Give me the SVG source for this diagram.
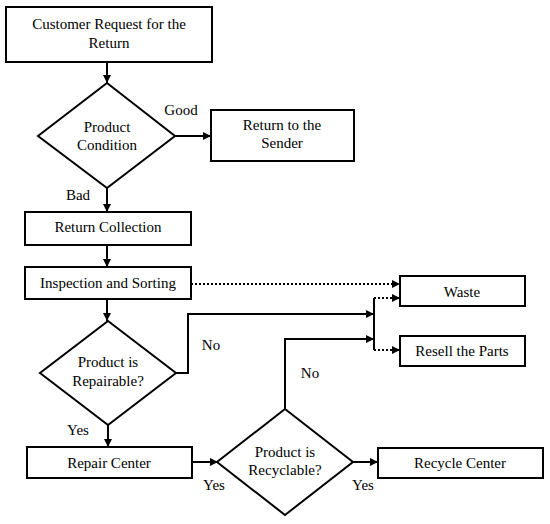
<svg xmlns="http://www.w3.org/2000/svg" width="550" height="524" viewBox="0 0 550 524">
<defs>
<style>
.box{fill:#fff;stroke:#000;stroke-width:2}
.t{font-size:15px;fill:#000;text-anchor:middle;dominant-baseline:central}
.c{fill:none;stroke:#000;stroke-width:2}
.d{fill:none;stroke:#000;stroke-width:2;stroke-dasharray:2 2}
</style>
<marker id="ah" viewBox="0 0 10 10" refX="10" refY="5" markerWidth="9" markerHeight="8" markerUnits="userSpaceOnUse" orient="auto">
<path d="M0,0 L10,5 L0,10 z" fill="#000"/>
</marker>
</defs>
<rect width="550" height="524" fill="#fff"/>
<g font-family="'Liberation Serif', 'Times New Roman', 'DejaVu Serif', serif">
<g id="connectors">
<path class="c" d="M107,62 V83" marker-end="url(#ah)"/>
<path class="c" d="M175,136 H211" marker-end="url(#ah)"/>
<path class="c" d="M107,188 V212" marker-end="url(#ah)"/>
<path class="c" d="M107,245 V267" marker-end="url(#ah)"/>
<path class="c" d="M107,299 V321" marker-end="url(#ah)"/>
<path class="d" d="M191,284 H400" marker-end="url(#ah)"/>
<path class="c" d="M374,298 V350"/>
<path class="d" d="M374,298 H400" marker-end="url(#ah)"/>
<path class="d" d="M374,350 H400" marker-end="url(#ah)"/>
<path class="c" d="M176,373 H188 V314 H374" marker-end="url(#ah)"/>
<path class="c" d="M285,409 V339 H374" marker-end="url(#ah)"/>
<path class="c" d="M108,425 V447" marker-end="url(#ah)"/>
<path class="c" d="M192,462 H218" marker-end="url(#ah)"/>
<path class="c" d="M353,462 H378" marker-end="url(#ah)"/>
<text class="t" x="181" y="110">Good</text>
<text class="t" x="78" y="195">Bad</text>
<text class="t" x="211" y="345">No</text>
<text class="t" x="310" y="373">No</text>
<text class="t" x="78" y="430">Yes</text>
<text class="t" x="214" y="485">Yes</text>
<text class="t" x="363" y="485">Yes</text>
</g>
<g id="customer-request">
<rect class="box" x="6" y="7" width="206" height="55"/>
<text class="t" x="109" y="24">Customer Request for the</text>
<text class="t" x="109" y="43">Return</text>
</g>
<g id="product-condition">
<path class="box" d="M107,83 L175,136 L107,188 L38,136 Z"/>
<text class="t" x="107" y="127">Product</text>
<text class="t" x="107" y="145">Condition</text>
</g>
<g id="return-sender">
<rect class="box" x="211" y="110" width="143" height="51"/>
<text class="t" x="282" y="125">Return to the</text>
<text class="t" x="282" y="143">Sender</text>
</g>
<g id="return-collection">
<rect class="box" x="25" y="212" width="166" height="33"/>
<text class="t" x="108" y="227">Return Collection</text>
</g>
<g id="inspection">
<rect class="box" x="25" y="267" width="166" height="32"/>
<text class="t" x="108" y="283">Inspection and Sorting</text>
</g>
<g id="waste">
<rect class="box" x="400" y="276" width="125" height="30"/>
<text class="t" x="462" y="292">Waste</text>
</g>
<g id="resell">
<rect class="box" x="400" y="336" width="125" height="30"/>
<text class="t" x="462" y="351">Resell the Parts</text>
</g>
<g id="repairable">
<path class="box" d="M108,321 L176,373 L108,425 L40,373 Z"/>
<text class="t" x="108" y="362">Product is</text>
<text class="t" x="108" y="381">Repairable?</text>
</g>
<g id="repair-center">
<rect class="box" x="27" y="447" width="165" height="31"/>
<text class="t" x="109" y="463">Repair Center</text>
</g>
<g id="recyclable">
<path class="box" d="M285,409 L353,462 L285,515 L217,462 Z"/>
<text class="t" x="285" y="452">Product is</text>
<text class="t" x="285" y="470">Recyclable?</text>
</g>
<g id="recycle-center">
<rect class="box" x="378" y="448" width="165" height="30"/>
<text class="t" x="460" y="463">Recycle Center</text>
</g>
</g>
</svg>
